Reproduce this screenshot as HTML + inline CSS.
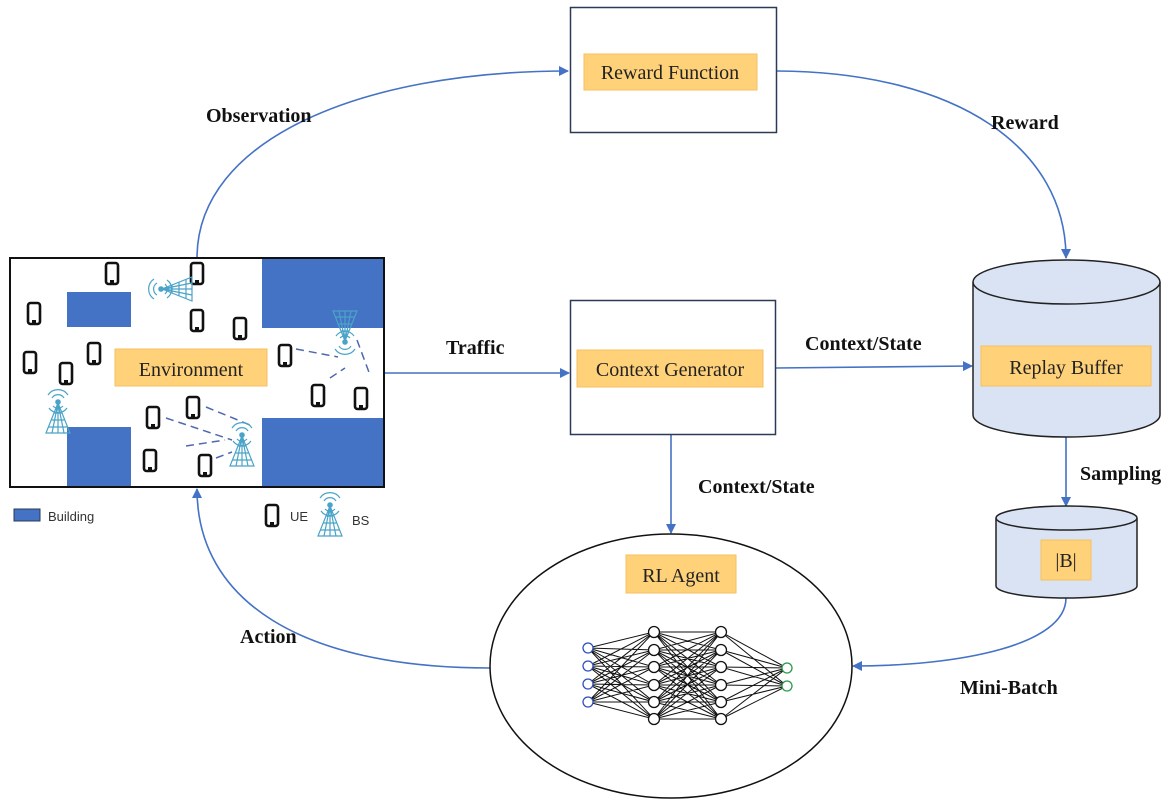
<!DOCTYPE html>
<html><head><meta charset="utf-8"><style>
html,body{margin:0;padding:0;background:#fff;}
svg{display:block;}
.lbl{font-family:"Liberation Serif",serif;font-size:20px;fill:#222;}
.bold{font-family:"Liberation Serif",serif;font-size:20px;font-weight:bold;fill:#111;}
.conn{fill:none;stroke:#4472c4;stroke-width:1.6;}
</style></head><body>
<svg width="1172" height="812" viewBox="0 0 1172 812" xmlns="http://www.w3.org/2000/svg">
<defs>
<marker id="ar" markerWidth="10" markerHeight="10" refX="9" refY="5" orient="auto" markerUnits="userSpaceOnUse">
<path d="M0,0 L10,5 L0,10 z" fill="#4472c4"/></marker>
<g id="ph"><rect x="-6" y="-10" width="12" height="21" rx="2.5" fill="#fff" stroke="#111" stroke-width="2.6"/><rect x="-2" y="7" width="4" height="3" fill="#111"/></g>
<g id="bs" fill="none" stroke="#4aa3c8" stroke-width="1.2">
<path d="M0,-4 L-12,26 L12,26 Z M0,-4 L0,26 M-4,6 L4,6 M-7,13 L7,13 M-10,20 L10,20 M-6,26 L0,-4 L6,26"/>
<circle cx="0" cy="-5" r="2.2" fill="#4aa3c8"/>
<path d="M-6,-9 A7,7 0 0 1 6,-9 M-10,-12 A12,12 0 0 1 10,-12 M-5,-1 A7,7 0 0 0 5,-1 M-9,1 A11,11 0 0 0 9,1"/>
</g>
</defs>

<!-- connectors -->
<path class="conn" d="M197,258 C197,140 360,71 568,71" marker-end="url(#ar)"/>
<path class="conn" d="M777,71 C960,72 1066,150 1066,258" marker-end="url(#ar)"/>
<path class="conn" d="M384,373 L569,373" marker-end="url(#ar)"/>
<path class="conn" d="M776,368 L972,366" marker-end="url(#ar)"/>
<path class="conn" d="M671,435 L671,533" marker-end="url(#ar)"/>
<path class="conn" d="M1066,437 L1066,506" marker-end="url(#ar)"/>
<path class="conn" d="M1066,598 C1066,645 960,666 853,666" marker-end="url(#ar)"/>
<path class="conn" d="M490,668 C300,668 197,600 197,489" marker-end="url(#ar)"/>

<text class="bold" x="206" y="122">Observation</text>
<text class="bold" x="991" y="129">Reward</text>
<text class="bold" x="446" y="354">Traffic</text>
<text class="bold" x="805" y="350">Context/State</text>
<text class="bold" x="698" y="493">Context/State</text>
<text class="bold" x="1080" y="480">Sampling</text>
<text class="bold" x="240" y="643">Action</text>
<text class="bold" x="960" y="694">Mini-Batch</text>

<!-- Reward function -->
<rect x="570.5" y="7.5" width="206" height="125" fill="#fff" stroke="#2b3a55" stroke-width="1.5"/>
<rect x="584" y="54" width="173" height="36" fill="#ffd27a" stroke="#f5c060"/>
<text class="lbl" x="670" y="79" text-anchor="middle">Reward Function</text>

<!-- Context generator -->
<rect x="570.5" y="300.5" width="205" height="134" fill="#fff" stroke="#2b3a55" stroke-width="1.5"/>
<rect x="577" y="350" width="186" height="37" fill="#ffd27a" stroke="#f5c060"/>
<text class="lbl" x="670" y="376" text-anchor="middle">Context Generator</text>

<!-- Replay buffer -->
<path d="M973,282 L973,415 A93.5,22 0 0 0 1160,415 L1160,282" fill="#dae3f3" stroke="#222" stroke-width="1.5"/>
<ellipse cx="1066.5" cy="282" rx="93.5" ry="22" fill="#dae3f3" stroke="#222" stroke-width="1.5"/>
<rect x="981" y="346" width="170" height="40" fill="#ffd27a" stroke="#f5c060"/>
<text class="lbl" x="1066" y="374" text-anchor="middle">Replay Buffer</text>

<path d="M996,518 L996,586 A70.5,12 0 0 0 1137,586 L1137,518" fill="#dae3f3" stroke="#222" stroke-width="1.5"/>
<ellipse cx="1066.5" cy="518" rx="70.5" ry="12" fill="#dae3f3" stroke="#222" stroke-width="1.5"/>
<rect x="1041" y="540" width="50" height="40" fill="#ffd27a" stroke="#f5c060"/>
<text class="lbl" x="1066" y="567" text-anchor="middle">|B|</text>

<!-- RL Agent -->
<ellipse cx="671" cy="666" rx="181" ry="132" fill="#fff" stroke="#111" stroke-width="1.5"/>
<rect x="626" y="555" width="110" height="38" fill="#ffd27a" stroke="#f5c060"/>
<text class="lbl" x="681" y="582" text-anchor="middle">RL Agent</text>
<path fill="none" stroke="#111" stroke-width="1" d="
M588,648L654,632M588,648L654,650M588,648L654,667M588,648L654,685M588,648L654,702M588,648L654,719
M588,666L654,632M588,666L654,650M588,666L654,667M588,666L654,685M588,666L654,702M588,666L654,719
M588,684L654,632M588,684L654,650M588,684L654,667M588,684L654,685M588,684L654,702M588,684L654,719
M588,702L654,632M588,702L654,650M588,702L654,667M588,702L654,685M588,702L654,702M588,702L654,719
M654,632L721,632M654,632L721,650M654,632L721,667M654,632L721,685M654,632L721,702M654,632L721,719
M654,650L721,632M654,650L721,650M654,650L721,667M654,650L721,685M654,650L721,702M654,650L721,719
M654,667L721,632M654,667L721,650M654,667L721,667M654,667L721,685M654,667L721,702M654,667L721,719
M654,685L721,632M654,685L721,650M654,685L721,667M654,685L721,685M654,685L721,702M654,685L721,719
M654,702L721,632M654,702L721,650M654,702L721,667M654,702L721,685M654,702L721,702M654,702L721,719
M654,719L721,632M654,719L721,650M654,719L721,667M654,719L721,685M654,719L721,702M654,719L721,719
M721,632L787,668M721,650L787,668M721,667L787,668M721,685L787,668M721,702L787,668M721,719L787,668
M721,632L787,686M721,650L787,686M721,667L787,686M721,685L787,686M721,702L787,686M721,719L787,686"/>
<g fill="#fff" stroke-width="1.3">
<g stroke="#3050c0"><circle cx="588" cy="648" r="5"/><circle cx="588" cy="666" r="5"/><circle cx="588" cy="684" r="5"/><circle cx="588" cy="702" r="5"/></g>
<g stroke="#111"><circle cx="654" cy="632" r="5.5"/><circle cx="654" cy="650" r="5.5"/><circle cx="654" cy="667" r="5.5"/><circle cx="654" cy="685" r="5.5"/><circle cx="654" cy="702" r="5.5"/><circle cx="654" cy="719" r="5.5"/>
<circle cx="721" cy="632" r="5.5"/><circle cx="721" cy="650" r="5.5"/><circle cx="721" cy="667" r="5.5"/><circle cx="721" cy="685" r="5.5"/><circle cx="721" cy="702" r="5.5"/><circle cx="721" cy="719" r="5.5"/></g>
<g stroke="#2a9a4a"><circle cx="787" cy="668" r="5"/><circle cx="787" cy="686" r="5"/></g>
</g>

<!-- Environment -->
<rect x="10" y="258" width="374" height="229" fill="#fff" stroke="#111" stroke-width="2"/>
<g fill="#4472c4">
<rect x="67" y="292" width="64" height="35"/>
<rect x="262" y="258" width="122" height="70"/>
<rect x="67" y="427" width="64" height="60"/>
<rect x="262" y="418" width="122" height="69"/>
</g>
<rect x="10" y="258" width="374" height="229" fill="none" stroke="#111" stroke-width="2"/>
<g fill="none" stroke="#5068b0" stroke-width="1.5" stroke-dasharray="8,5">
<path d="M296,349 L338,357 M330,378 L345,368 M357,340 L370,375"/>
<path d="M206,407 L250,425 M166,418 L232,440 M186,446 L225,440 M216,458 L232,452"/>
</g>
<use href="#ph" x="112" y="273"/><use href="#ph" x="197" y="273"/><use href="#ph" x="34" y="313"/>
<use href="#ph" x="197" y="320"/><use href="#ph" x="240" y="328"/><use href="#ph" x="30" y="362"/>
<use href="#ph" x="66" y="373"/><use href="#ph" x="94" y="353"/><use href="#ph" x="285" y="355"/>
<use href="#ph" x="318" y="395"/><use href="#ph" x="361" y="398"/><use href="#ph" x="153" y="417"/>
<use href="#ph" x="193" y="407"/><use href="#ph" x="150" y="460"/><use href="#ph" x="205" y="465"/>
<use href="#bs" transform="translate(166,289) rotate(-90)"/>
<use href="#bs" transform="translate(345,337) rotate(180)"/>
<use href="#bs" x="58" y="407"/>
<use href="#bs" x="242" y="440"/>
<rect x="115" y="349" width="152" height="37" fill="#ffd27a" stroke="#f5c060"/>
<text class="lbl" x="191" y="376" text-anchor="middle">Environment</text>

<!-- legend -->
<rect x="14" y="509" width="26" height="12" fill="#4472c4" stroke="#2b3a55"/>
<text x="48" y="521" font-family="Liberation Sans,sans-serif" font-size="13" fill="#333">Building</text>
<use href="#ph" x="272" y="515"/>
<text x="290" y="521" font-family="Liberation Sans,sans-serif" font-size="13" fill="#333">UE</text>
<use href="#bs" x="330" y="510"/>
<text x="352" y="525" font-family="Liberation Sans,sans-serif" font-size="13" fill="#333">BS</text>
</svg>
</body></html>
